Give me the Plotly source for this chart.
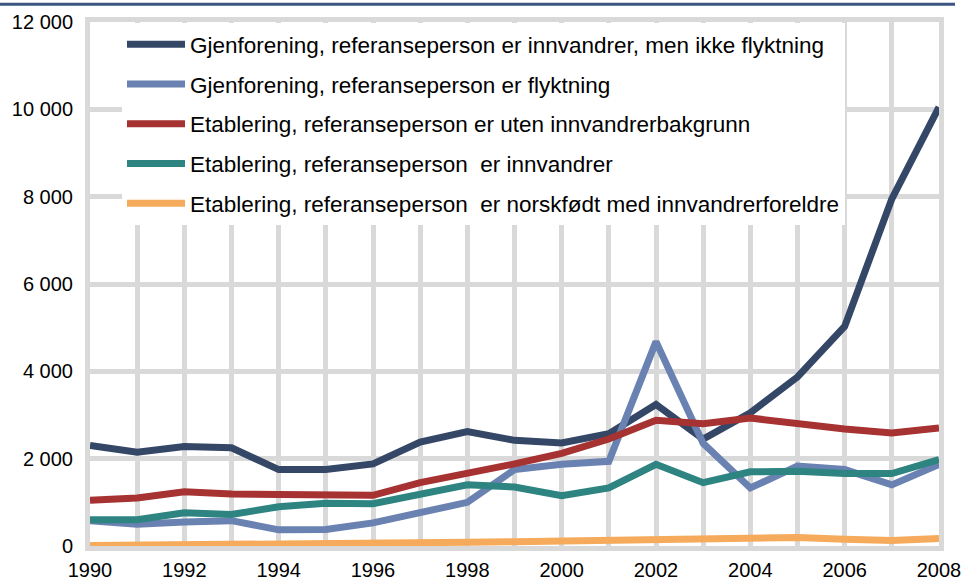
import plotly.graph_objects as go

years = list(range(1990, 2009))

names = [
    "Gjenforening, referanseperson er innvandrer, men ikke flyktning",
    "Gjenforening, referanseperson er flyktning",
    "Etablering, referanseperson er uten innvandrerbakgrunn",
    "Etablering, referanseperson  er innvandrer",
    "Etablering, referanseperson  er norskfødt med innvandrerforeldre",
]

gjen_innvandrer = [2300, 2150, 2280, 2250, 1750, 1750, 1880, 2380, 2620, 2420,
                   2360, 2570, 3240, 2450, 3050, 3870, 5030, 7950, 10050]
gjen_flyktning = [580, 500, 550, 580, 370, 380, 530, 750, 1000, 1750,
                  1870, 1940, 4680, 2350, 1330, 1830, 1750, 1400, 1870]
etab_uten = [1050, 1100, 1240, 1190, 1180, 1160, 1160, 1450, 1650, 1880,
             2120, 2450, 2880, 2800, 2930, 2800, 2680, 2590, 2700]
etab_innvandrer = [600, 600, 760, 720, 900, 980, 970, 1180, 1400, 1350,
                   1150, 1330, 1870, 1450, 1700, 1710, 1660, 1660, 1980]
etab_norskfodt = [10, 15, 20, 25, 30, 35, 45, 60, 85, 100,
                  120, 150, 160, 180, 190, 195, 155, 125, 170]

series = [gjen_innvandrer, gjen_flyktning, etab_uten, etab_innvandrer, etab_norskfodt]
colors = ["#344767", "#6a82b2", "#a63232", "#2d8480", "#f6aa5c"]

y_ticks = [0, 2000, 4000, 6000, 8000, 10000, 12000]
y_tick_text = ["0", "2 000", "4 000", "6 000", "8 000", "10 000", "12 000"]

fig = go.Figure()
for i, (name, vals, col) in enumerate(zip(names, series, colors)):
    fig.add_trace(go.Scatter(
        x=years, y=vals, name=name, mode="lines",
        line=dict(color=col, width=7), legendgroup=str(i)))

grid = "#d9d9d9"
fig.update_layout(
    width=963, height=581,
    margin=dict(l=90, r=24, t=22, b=35),
    paper_bgcolor="white", plot_bgcolor="white",
    font=dict(family="Liberation Sans, Arial, sans-serif", size=20, color="black"),
    showlegend=True,
    legend=dict(
        x=(122 - 90) / 849, y=0.998, xanchor="left", yanchor="top",
        bgcolor="white", borderwidth=0,
        font=dict(size=22.5), tracegroupgap=7.5, itemwidth=58,
    ),
    xaxis=dict(
        range=[1990, 2008], tickmode="array", tickvals=years,
        ticktext=[str(y) if y % 2 == 0 else "" for y in years],
        showgrid=True, gridcolor=grid, gridwidth=5,
        showline=True, linecolor=grid, linewidth=5, mirror=True,
        zeroline=False, ticks="", ticklabelstandoff=2, automargin=False,
        ticklabeloverflow="allow",
    ),
    yaxis=dict(
        range=[0, 12000], tickvals=y_ticks, ticktext=y_tick_text,
        showgrid=True, gridcolor=grid, gridwidth=5,
        showline=True, linecolor=grid, linewidth=5, mirror=True,
        zeroline=False, ticks="", ticklabelstandoff=8, automargin=False,
    ),
    shapes=[dict(type="line", xref="paper", yref="paper",
                 x0=-0.106, x1=(955 - 90) / 849, y0=1.034, y1=1.034,
                 line=dict(color="#3d5580", width=3))],
)

fig.write_html("out.html", config={"displayModeBar": False},
               post_script="document.body.style.margin='0px';")
